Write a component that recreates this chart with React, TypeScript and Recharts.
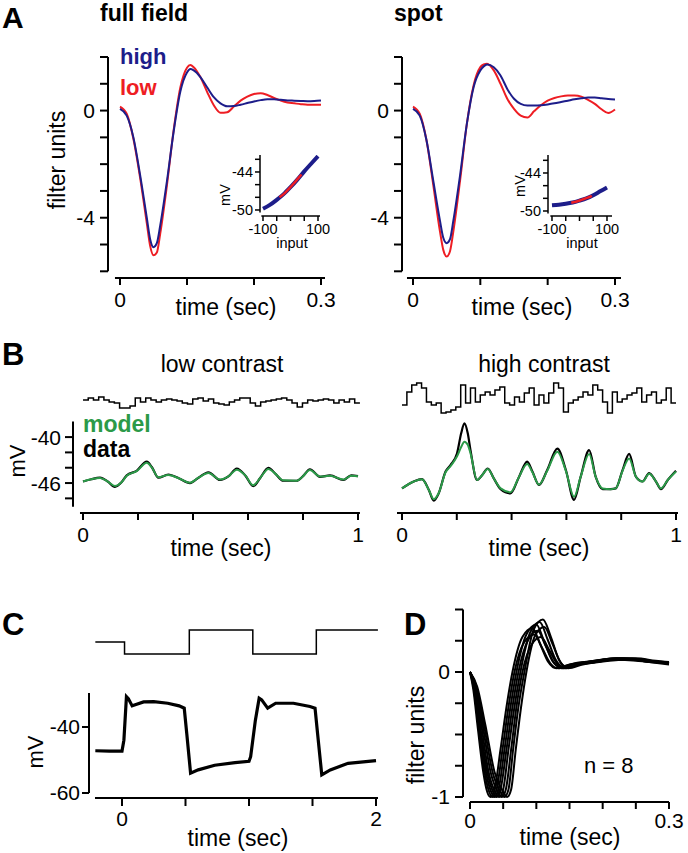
import { LineChart, Line, XAxis, YAxis, ReferenceLine } from 'recharts'

const FONT = '"Liberation Sans", Arial, Helvetica, sans-serif'
const BLUE = '#1d1d8a'
const RED = '#ee1d23'
const GREEN = '#2b9a48'

// ---- panel A: filters (time in s, filter units)
const A_TIME = [0, 0.01, 0.02, 0.03, 0.04, 0.045, 0.05, 0.055, 0.06, 0.07, 0.08, 0.09, 0.1, 0.105, 0.11, 0.12, 0.13, 0.14, 0.15, 0.16, 0.17, 0.18, 0.19, 0.2, 0.21, 0.22, 0.23, 0.24, 0.25, 0.26, 0.27, 0.28, 0.29, 0.3]
const FF_HIGH = [0.06, -0.19, -1.0, -2.4, -4.0, -4.8, -5.1, -4.95, -4.3, -2.65, -0.8, 0.7, 1.42, 1.55, 1.5, 1.25, 0.87, 0.5, 0.27, 0.16, 0.17, 0.22, 0.28, 0.34, 0.39, 0.42, 0.42, 0.4, 0.38, 0.37, 0.36, 0.35, 0.36, 0.38]
const FF_LOW = [0.15, -0.12, -1.05, -2.5, -4.2, -5.05, -5.4, -5.3, -4.6, -2.8, -0.75, 0.85, 1.6, 1.7, 1.62, 1.25, 0.7, 0.2, -0.08, -0.06, 0.15, 0.37, 0.52, 0.62, 0.65, 0.58, 0.47, 0.37, 0.3, 0.27, 0.24, 0.22, 0.22, 0.22]
const SPOT_HIGH = [0.06, -0.19, -1.1, -2.6, -4.1, -4.75, -4.95, -4.8, -4.1, -2.4, -0.5, 0.87, 1.5, 1.65, 1.72, 1.62, 1.31, 0.81, 0.44, 0.25, 0.19, 0.19, 0.2, 0.23, 0.27, 0.32, 0.37, 0.42, 0.46, 0.49, 0.49, 0.46, 0.43, 0.41]
const SPOT_LOW = [0.15, -0.12, -1.1, -2.75, -4.5, -5.2, -5.45, -5.25, -4.5, -2.6, -0.5, 0.94, 1.62, 1.72, 1.75, 1.5, 1.0, 0.44, 0.06, -0.19, -0.26, -0.02, 0.2, 0.37, 0.47, 0.53, 0.56, 0.56, 0.52, 0.4, 0.25, 0.05, -0.09, 0.04]

// insets: nonlinearity (input vs mV)
const IN_X = [-100, -75, -50, -25, 0, 25, 50, 75, 100]
const FF_IN_HIGH = [-49.8, -49.2, -48.4, -47.5, -46.4, -45.2, -43.9, -42.7, -41.5]
const FF_IN_LOW_X = [-40, -20, 0, 20, 40]
const FF_IN_LOW = [-48.0, -47.3, -46.4, -45.4, -44.4]
const SP_IN_HIGH = [-49.1, -49.0, -48.85, -48.65, -48.35, -48.0, -47.5, -46.9, -46.3]
const SP_IN_LOW_X = [-30, -10, 10, 30, 45]
const SP_IN_LOW = [-48.7, -48.5, -48.2, -47.9, -47.6]

// ---- panel B: stimulus frames and responses
const B_LOW_STIM = [2, 4, 2, 5, 2, 0, -1, -6, -6, -4, 4, 0, 4, 2, 0, 2, 3, 2, 1, -1, -2, 3, 4, 1, 3, -1, -2, -3, 0, 2, 4, 4, -1, -4, 0, 1, 2, 3, 4, 2, -1, -5, -1, 2, 1, 2, 3, 2, -1, 2, 0, 3, -1]
const B_HIGH_STIM = [-7, 6, 13, 15, 10, -4, -7, -5, -15, -14, -12, -9, 13, -5, 10, -4, 3, 6, 3, 8, 11, -5, -7, 1, -4, 5, 10, -7, 3, -5, 5, 15, 10, -14, -5, -2, 1, 6, 3, 13, 8, -4, -15, 6, -4, -1, 3, 5, 10, -4, 3, 6, -5, -2, 10, -5]
const B_LOW_DT = 0.019
const B_HIGH_DT = 1 / 56

const B_LOW_T = [0, 0.03, 0.062, 0.09, 0.116, 0.14, 0.159, 0.195, 0.232, 0.25, 0.274, 0.31, 0.35, 0.389, 0.42, 0.456, 0.498, 0.53, 0.559, 0.59, 0.619, 0.645, 0.674, 0.7, 0.728, 0.777, 0.8, 0.825, 0.862, 0.898, 0.947, 0.975, 1.0]
const B_LOW_DATA = [-45.8, -45.5, -45.3, -45.8, -46.5, -45.9, -45.0, -44.4, -43.2, -43.9, -45.3, -44.9, -45.4, -46.0, -45.3, -44.6, -45.6, -45.1, -44.1, -45.0, -46.4, -45.3, -44.0, -44.8, -45.7, -45.7, -45.1, -44.2, -45.2, -45.0, -45.6, -45.0, -45.1]
const B_LOW_MODEL = [-45.8, -45.5, -45.35, -45.8, -46.4, -45.9, -45.05, -44.45, -43.35, -43.95, -45.25, -44.95, -45.4, -45.95, -45.3, -44.7, -45.55, -45.1, -44.25, -45.0, -46.3, -45.3, -44.15, -44.8, -45.65, -45.7, -45.1, -44.3, -45.15, -45.05, -45.55, -45.05, -45.1]

const B_HIGH_T = [0, 0.043, 0.073, 0.098, 0.116, 0.134, 0.159, 0.177, 0.201, 0.216, 0.228, 0.24, 0.25, 0.274, 0.293, 0.313, 0.335, 0.36, 0.396, 0.427, 0.457, 0.476, 0.5, 0.53, 0.567, 0.598, 0.628, 0.652, 0.683, 0.707, 0.732, 0.762, 0.78, 0.805, 0.829, 0.854, 0.878, 0.902, 0.927, 0.945, 0.97, 1.0]
const B_HIGH_DATA = [-46.7, -45.8, -45.5, -46.9, -48.3, -47.35, -44.5, -43.65, -42.1, -39.5, -38.2, -39.5, -41.7, -45.6, -44.95, -44.1, -45.4, -46.8, -47.35, -45.2, -43.2, -44.5, -46.25, -44.3, -41.5, -44.3, -48.2, -45.2, -41.7, -45.2, -46.8, -46.8, -46.7, -44.3, -42.2, -45.2, -45.8, -44.7, -45.8, -46.8, -45.6, -44.4]
const B_HIGH_MODEL = [-46.7, -45.8, -45.5, -46.9, -48.1, -47.3, -44.6, -43.8, -42.5, -41.3, -40.6, -41.0, -42.1, -45.6, -44.95, -44.15, -45.4, -46.7, -47.2, -45.2, -43.5, -44.6, -46.2, -44.4, -41.9, -44.4, -47.8, -45.2, -42.2, -45.2, -46.7, -46.8, -46.7, -44.4, -42.8, -45.2, -45.8, -44.8, -45.8, -46.7, -45.6, -44.5]

// ---- panel C: contrast steps
const C_STIM_T = [-0.21, 0.02, 0.53, 1.03, 1.53, 2.015]
const C_STIM = [0, -1, 1, -1, 1, 1]
const C_T = [-0.21, -0.1, 0.0, 0.015, 0.035, 0.05, 0.08, 0.11, 0.17, 0.25, 0.36, 0.45, 0.49, 0.51, 0.54, 0.6, 0.73, 0.89, 1.0, 1.013, 1.05, 1.08, 1.1, 1.147, 1.21, 1.35, 1.48, 1.52, 1.54, 1.573, 1.64, 1.78, 1.9, 2.0]
const C_MV = [-47.2, -47.3, -47.3, -44, -30.8, -31.4, -33.6, -33.2, -32.4, -32.3, -32.8, -33.6, -34.3, -42, -54.0, -53.0, -51.6, -50.8, -50.4, -49, -38, -31.3, -31.8, -34.3, -32.8, -32.8, -33.8, -34.3, -42, -54.5, -53.0, -51.0, -50.6, -50.2]

// ---- panel D: normalized filters, 8 cells ([t, v])
const D_CELLS = [
  [[0, 0], [0.005, -0.14], [0.012, -0.46], [0.02, -0.8], [0.026, -0.96], [0.031, -1], [0.037, -0.94], [0.046, -0.62], [0.055, -0.28], [0.064, 0], [0.079, 0.28], [0.094, 0.35], [0.106, 0.22], [0.118, 0.08], [0.13, 0.03], [0.15, 0.06], [0.18, 0.08], [0.21, 0.1], [0.24, 0.1], [0.27, 0.08], [0.3, 0.07]],
  [[0, 0], [0.006, -0.14], [0.013, -0.45], [0.022, -0.8], [0.029, -0.96], [0.034, -1], [0.04, -0.94], [0.049, -0.62], [0.058, -0.28], [0.067, 0], [0.082, 0.24], [0.097, 0.3], [0.109, 0.19], [0.121, 0.07], [0.133, 0.03], [0.155, 0.06], [0.18, 0.07], [0.21, 0.09], [0.24, 0.1], [0.27, 0.08], [0.3, 0.06]],
  [[0, 0], [0.006, -0.12], [0.014, -0.43], [0.024, -0.8], [0.032, -0.96], [0.037, -1], [0.043, -0.94], [0.052, -0.62], [0.061, -0.28], [0.07, 0], [0.085, 0.3], [0.1, 0.38], [0.112, 0.24], [0.124, 0.09], [0.136, 0.04], [0.158, 0.07], [0.19, 0.09], [0.22, 0.11], [0.25, 0.1], [0.28, 0.08], [0.3, 0.07]],
  [[0, 0], [0.007, -0.12], [0.015, -0.42], [0.026, -0.8], [0.035, -0.96], [0.04, -1], [0.046, -0.94], [0.055, -0.62], [0.064, -0.28], [0.073, 0], [0.088, 0.26], [0.102, 0.33], [0.114, 0.21], [0.126, 0.08], [0.138, 0.03], [0.16, 0.06], [0.19, 0.08], [0.22, 0.1], [0.25, 0.1], [0.28, 0.08], [0.3, 0.07]],
  [[0, 0], [0.008, -0.12], [0.017, -0.42], [0.028, -0.8], [0.038, -0.96], [0.044, -1], [0.05, -0.94], [0.058, -0.62], [0.067, -0.28], [0.076, 0], [0.091, 0.32], [0.105, 0.4], [0.117, 0.26], [0.129, 0.1], [0.141, 0.04], [0.163, 0.07], [0.19, 0.09], [0.22, 0.11], [0.25, 0.11], [0.28, 0.09], [0.3, 0.08]],
  [[0, 0], [0.009, -0.12], [0.019, -0.42], [0.031, -0.8], [0.042, -0.96], [0.048, -1], [0.054, -0.94], [0.062, -0.62], [0.07, -0.28], [0.079, 0], [0.093, 0.22], [0.107, 0.28], [0.119, 0.18], [0.131, 0.07], [0.143, 0.03], [0.165, 0.06], [0.19, 0.08], [0.22, 0.1], [0.25, 0.09], [0.28, 0.08], [0.3, 0.07]],
  [[0, 0], [0.01, -0.12], [0.021, -0.42], [0.034, -0.8], [0.046, -0.96], [0.052, -1], [0.058, -0.94], [0.065, -0.62], [0.073, -0.28], [0.082, 0], [0.096, 0.34], [0.11, 0.42], [0.122, 0.28], [0.134, 0.1], [0.146, 0.04], [0.168, 0.07], [0.2, 0.1], [0.23, 0.11], [0.26, 0.1], [0.28, 0.08], [0.3, 0.07]],
  [[0, 0], [0.011, -0.12], [0.023, -0.42], [0.037, -0.8], [0.05, -0.96], [0.056, -1], [0.062, -0.94], [0.069, -0.62], [0.077, -0.28], [0.085, 0], [0.098, 0.29], [0.112, 0.36], [0.124, 0.23], [0.136, 0.08], [0.148, 0.03], [0.17, 0.06], [0.2, 0.09], [0.23, 0.1], [0.26, 0.1], [0.28, 0.08], [0.3, 0.07]],
]

// ---- rows built from the arrays
const ffRows = A_TIME.map((t, i) => ({ t, high: FF_HIGH[i], low: FF_LOW[i] }))
const spotRows = A_TIME.map((t, i) => ({ t, high: SPOT_HIGH[i], low: SPOT_LOW[i] }))
const pairs = (xs: number[], ys: number[]) => xs.map((t, i) => ({ t, v: ys[i] }))
const steps = (vals: number[], dt: number) => [
  ...vals.map((v, i) => ({ t: i * dt, v })),
  { t: vals.length * dt, v: vals[vals.length - 1] },
]
const bLowRows = B_LOW_T.map((t, i) => ({ t, data: B_LOW_DATA[i], model: B_LOW_MODEL[i] }))
const bHighRows = B_HIGH_T.map((t, i) => ({ t, data: B_HIGH_DATA[i], model: B_HIGH_MODEL[i] }))
const dRows = D_CELLS.map((c) => c.map(([t, v]) => ({ t, v })))

// ---- helpers
const tickFont = (size: number) => ({ fontSize: size, fill: '#000', fontFamily: FONT })
const only = (keep: number[]) => (v: number) => (keep.some((k) => Math.abs(k - v) < 1e-9) ? String(v) : '')
const box = (x0: number, y0: number, x1: number, y1: number, padL: number, padB: number, padT = 6, padR = 8) => ({
  style: { position: 'absolute' as const, left: x0 - padL, top: y0 - padT },
  width: x1 - x0 + padL + padR,
  height: y1 - y0 + padT + padB,
  margin: { top: padT, right: padR, left: 0, bottom: 0 },
  hidden: { top: padT, right: padR, left: padL, bottom: padB },
})
const axisBits = { axisLine: false, stroke: '#000', interval: 0 as const, allowDataOverflow: true, type: 'number' as const }
const tl = (w: number) => ({ stroke: '#000', strokeWidth: w })
const seg = (x1: number, y1: number, x2: number, y2: number, w = 2) => (
  <ReferenceLine segment={[{ x: x1, y: y1 }, { x: x2, y: y2 }]} stroke="#000" strokeWidth={w} ifOverflow="visible" />
)

const T = ({ x, y, size = 23, bold = false, color = '#000', anchor = 'start', rot = false, children }: any) => (
  <text
    x={x}
    y={y}
    fontSize={size}
    fontWeight={bold ? 700 : 400}
    fill={color}
    textAnchor={anchor}
    fontFamily={FONT}
    transform={rot ? `rotate(-90 ${x} ${y})` : undefined}
  >
    {children}
  </text>
)

// A main panels
const FilterPanel = ({ rows, x0, x1, xDom, xStart }: any) => {
  const b = box(x0, 57, x1, 278, 100, 45, 6, 28)
  return (
    <div style={b.style}>
      <LineChart width={b.width} height={b.height} data={rows} margin={b.margin}>
        <XAxis {...axisBits} dataKey="t" domain={xDom} ticks={[0, 0.1, 0.2, 0.3]} tickFormatter={only([0, 0.3])}
          height={45} tickLine={tl(2)} tickSize={7} tickMargin={7} tick={tickFont(21)} />
        <YAxis {...axisBits} domain={[-6.25, 2]} ticks={[-6, -5, -4, -3, -2, -1, 0, 1, 2]} tickFormatter={only([0, -4])}
          width={100} tickLine={tl(2)} tickSize={8} tickMargin={5} tick={tickFont(21)} />
        {seg(xDom[0], -6, xDom[0], 2)}
        {seg(xStart, -6.25, xDom[1], -6.25)}
        <Line dataKey="low" stroke={RED} strokeWidth={2} dot={false} activeDot={false} type="monotone" isAnimationActive={false} />
        <Line dataKey="high" stroke={BLUE} strokeWidth={2} dot={false} activeDot={false} type="monotone" isAnimationActive={false} />
      </LineChart>
    </div>
  )
}

const Inset = ({ x0, x1, xDom, yDom, high, lowX, low }: any) => {
  const b = box(x0, 155, x1, 216, 50, 38, 4, 14)
  return (
    <div style={b.style}>
      <LineChart width={b.width} height={b.height} margin={b.margin}>
        <XAxis {...axisBits} dataKey="t" domain={xDom} ticks={[-100, -50, 0, 50, 100]} tickFormatter={only([-100, 100])}
          height={38} tickLine={tl(1.5)} tickSize={5} tickMargin={3} tick={tickFont(14.5)} />
        <YAxis {...axisBits} domain={yDom} ticks={[-50, -48, -46, -44, -42]} tickFormatter={only([-50, -44])}
          width={50} tickLine={tl(1.5)} tickSize={5} tickMargin={2} tick={tickFont(14.5)} />
        {seg(xDom[0], -50.4, xDom[0], yDom[1], 1.5)}
        {seg(-106, yDom[0], xDom[1], yDom[0], 1.5)}
        <Line data={pairs(IN_X, high)} dataKey="v" stroke={BLUE} strokeWidth={4} dot={false} activeDot={false} type="monotone" isAnimationActive={false} />
        <Line data={pairs(lowX, low)} dataKey="v" stroke={RED} strokeWidth={2.5} dot={false} activeDot={false} type="monotone" isAnimationActive={false} />
      </LineChart>
    </div>
  )
}

const B_YDOM = [-49.91, -37.9]

const Stim = ({ rows, x0, x1, y0, y1, xDom, yDom, w = 1.5, type = 'stepAfter' }: any) => {
  const b = box(x0, y0, x1, y1, 4, 4, 4, 6)
  return (
    <div style={b.style}>
      <LineChart width={b.width} height={b.height} data={rows} margin={b.hidden}>
        <XAxis type="number" dataKey="t" domain={xDom} allowDataOverflow hide />
        <YAxis type="number" domain={yDom} allowDataOverflow hide />
        <Line dataKey="v" stroke="#000" strokeWidth={w} dot={false} activeDot={false} type={type} isAnimationActive={false} />
      </LineChart>
    </div>
  )
}

export default function App() {
  const bl = box(73, 421, 362, 513, 70, 40, 6, 14)
  const bh = box(397, 421, 678, 513, 10, 40)
  const c = box(89, 693, 378, 798, 86, 40, 6, 14)
  const d = box(463, 609, 670, 802, 60, 40, 6, 17)
  const bLowDom = [-0.0364, 1.0145]
  const bHighDom = [-0.0182, 1.0073]
  const cDom = [-0.2598, 2.0157]
  const dDom = [-0.01055, 0.3015]
  return (
    <div style={{ position: 'absolute', left: 0, top: 0, width: 688, height: 853, background: '#fff', overflow: 'hidden' }}>
      <FilterPanel rows={ffRows} x0={108} x1={325} xDom={[-0.0179, 0.306]} xStart={-0.0075} />
      <FilterPanel rows={spotRows} x0={402} x1={621} xDom={[-0.0163, 0.3089]} xStart={-0.0089} />
      <Inset x0={260} x1={320} xDom={[-110.9, 107.3]} yDom={[-50.95, -41.32]} high={FF_IN_HIGH} lowX={FF_IN_LOW_X} low={FF_IN_LOW} />
      <Inset x0={548} x1={612} xDom={[-114.5, 118.2]} yDom={[-50.79, -41.16]} high={SP_IN_HIGH} lowX={SP_IN_LOW_X} low={SP_IN_LOW} />

      {/* B stimuli */}
      <Stim rows={steps(B_LOW_STIM, B_LOW_DT)} x0={73} x1={362} y0={382} y1={422} xDom={bLowDom} yDom={[-20, 20]} />
      <Stim rows={steps(B_HIGH_STIM, B_HIGH_DT)} x0={397} x1={678} y0={378} y1={418} xDom={bHighDom} yDom={[-20, 20]} />

      {/* B low contrast */}
      <div style={bl.style}>
        <LineChart width={bl.width} height={bl.height} data={bLowRows} margin={bl.margin}>
          <XAxis {...axisBits} dataKey="t" domain={bLowDom} ticks={[0, 0.2, 0.4, 0.6, 0.8, 1]} tickFormatter={only([0, 1])}
            height={40} tickLine={tl(2)} tickSize={7} tickMargin={7} tick={tickFont(21)} />
          <YAxis {...axisBits} domain={B_YDOM} ticks={[-48, -46, -44, -42, -40]} tickFormatter={only([-40, -46])}
            width={70} tickLine={tl(2)} tickSize={8} tickMargin={4} tick={tickFont(21)} />
          {seg(bLowDom[0], -49.1, bLowDom[0], -37.95)}
          {seg(-0.011, B_YDOM[0], 1.007, B_YDOM[0])}
          <Line dataKey="data" stroke="#000" strokeWidth={2.2} dot={false} activeDot={false} type="monotone" isAnimationActive={false} />
          <Line dataKey="model" stroke={GREEN} strokeWidth={2} dot={false} activeDot={false} type="monotone" isAnimationActive={false} />
        </LineChart>
      </div>

      {/* B high contrast */}
      <div style={bh.style}>
        <LineChart width={bh.width} height={bh.height} data={bHighRows} margin={{ ...bh.margin, left: 10 }}>
          <XAxis {...axisBits} dataKey="t" domain={bHighDom} ticks={[0, 0.2, 0.4, 0.6, 0.8, 1]} tickFormatter={only([0, 1])}
            height={40} tickLine={tl(2)} tickSize={7} tickMargin={7} tick={tickFont(21)} />
          <YAxis type="number" domain={B_YDOM} allowDataOverflow hide />
          {seg(bHighDom[0], B_YDOM[0], bHighDom[1], B_YDOM[0])}
          <Line dataKey="data" stroke="#000" strokeWidth={2.2} dot={false} activeDot={false} type="monotone" isAnimationActive={false} />
          <Line dataKey="model" stroke={GREEN} strokeWidth={2} dot={false} activeDot={false} type="monotone" isAnimationActive={false} />
        </LineChart>
      </div>

      {/* C */}
      <Stim rows={pairs(C_STIM_T, C_STIM)} x0={89} x1={378} y0={624} y1={660} xDom={cDom} yDom={[-1.5, 1.5]} />
      <div style={c.style}>
        <LineChart width={c.width} height={c.height} data={pairs(C_T, C_MV)} margin={c.margin}>
          <XAxis {...axisBits} dataKey="t" domain={cDom} ticks={[0, 0.5, 1, 1.5, 2]} tickFormatter={only([0, 2])}
            height={40} tickLine={tl(2)} tickSize={8} tickMargin={5} tick={tickFont(21)} />
          <YAxis {...axisBits} domain={[-61.52, -29.7]} ticks={[-60, -40]} tickFormatter={only([-60, -40])}
            width={86} tickLine={tl(2)} tickSize={7} tickMargin={2} tick={tickFont(21)} />
          {seg(cDom[0], -60, cDom[0], -29.7)}
          {seg(-0.2126, -61.52, cDom[1], -61.52)}
          <Line dataKey="v" stroke="#000" strokeWidth={3.2} dot={false} activeDot={false} type="linear" isAnimationActive={false} />
        </LineChart>
      </div>

      {/* D */}
      <div style={d.style}>
        <LineChart width={d.width} height={d.height} margin={d.margin}>
          <XAxis {...axisBits} dataKey="t" domain={dDom} ticks={[0, 0.05, 0.1, 0.15, 0.2, 0.25, 0.3]} tickFormatter={only([0, 0.3])}
            height={40} tickLine={tl(2)} tickSize={7} tickMargin={4} tick={tickFont(21)} />
          <YAxis {...axisBits} domain={[-1.04, 0.504]} ticks={[-1, -0.75, -0.5, -0.25, 0, 0.25, 0.5]} tickFormatter={only([0, -1])}
            width={60} tickLine={tl(2)} tickSize={8} tickMargin={5} tick={tickFont(21)} />
          {seg(dDom[0], -1, dDom[0], 0.5)}
          {seg(0, -1.04, 0.3, -1.04)}
          {dRows.map((rows, i) => (
            <Line key={i} data={rows} dataKey="v" stroke="#000" strokeWidth={2} dot={false} activeDot={false} type="monotone" isAnimationActive={false} />
          ))}
        </LineChart>
      </div>

      {/* text layer */}
      <svg width={688} height={853} style={{ position: 'absolute', left: 0, top: 0, pointerEvents: 'none' }}>
        <T x={2} y={28} size={30} bold>A</T>
        <T x={100} y={21} bold>full field</T>
        <T x={394} y={21} bold>spot</T>
        <T x={120} y={64} size={22} bold color={BLUE}>high</T>
        <T x={120} y={95} size={22} bold color={RED}>low</T>
        <T x={65} y={160} anchor="middle" rot>filter units</T>
        <T x={226} y={315} anchor="middle">time (sec)</T>
        <T x={522} y={315} anchor="middle">time (sec)</T>
        <T x={230} y={195} size={14.5} anchor="middle" rot>mV</T>
        <T x={292} y={248} size={14.5} anchor="middle">input</T>
        <T x={525} y={186} size={14.5} anchor="middle" rot>mV</T>
        <T x={582} y={248} size={14.5} anchor="middle">input</T>

        <T x={2} y={365} size={31} bold>B</T>
        <T x={222} y={372} anchor="middle">low contrast</T>
        <T x={544} y={372} anchor="middle">high contrast</T>
        <T x={83} y={432} bold color={GREEN}>model</T>
        <T x={83} y={457} bold>data</T>
        <T x={25} y={461} size={22} anchor="middle" rot>mV</T>
        <T x={221} y={556} anchor="middle">time (sec)</T>
        <T x={539} y={556} anchor="middle">time (sec)</T>

        <T x={2} y={635} size={31} bold>C</T>
        <T x={43} y={752} size={22} anchor="middle" rot>mV</T>
        <T x={238} y={846} anchor="middle">time (sec)</T>

        <T x={404} y={635} size={31} bold>D</T>
        <T x={424} y={735} anchor="middle" rot>filter units</T>
        <T x={584} y={773} size={22}>n = 8</T>
        <T x={570} y={845} anchor="middle">time (sec)</T>
      </svg>
    </div>
  )
}
